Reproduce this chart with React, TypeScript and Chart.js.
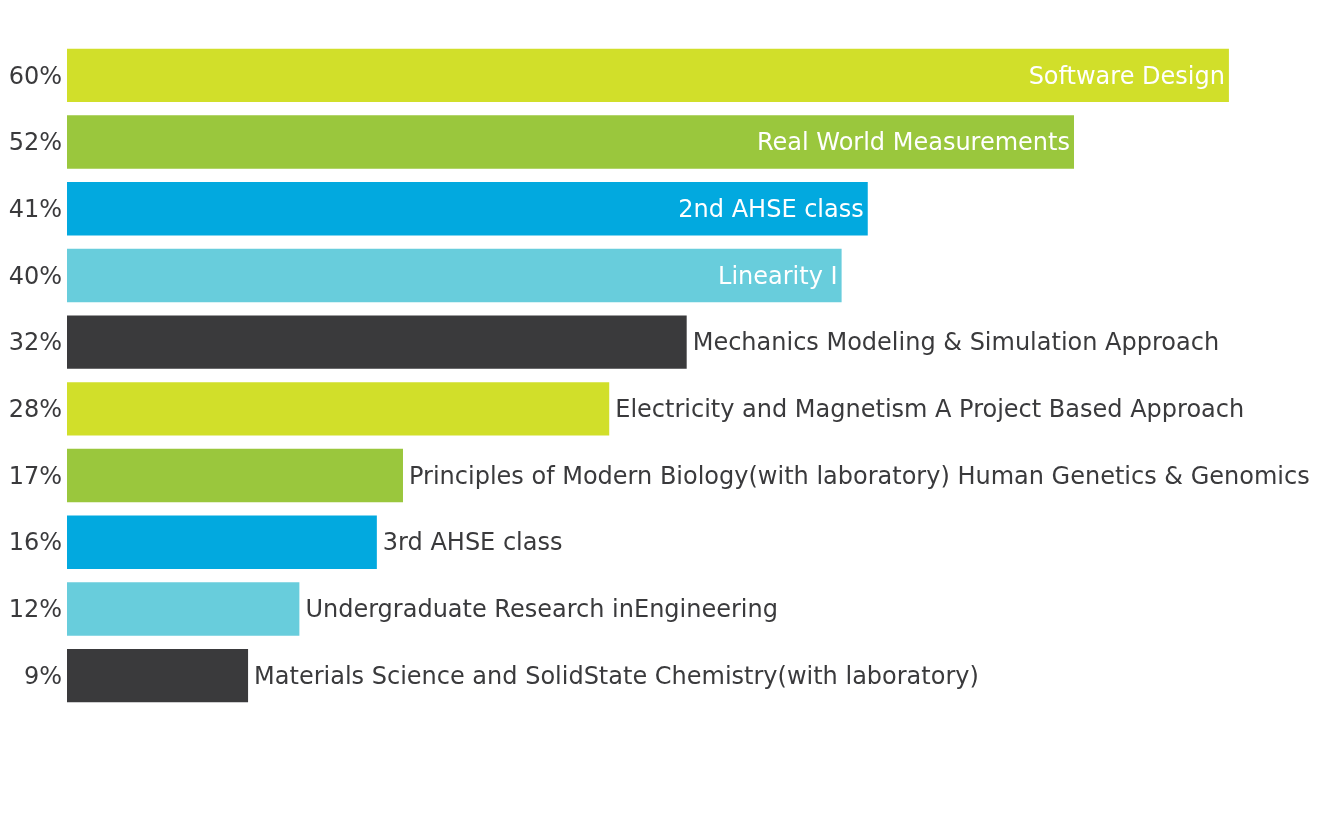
import React, { useEffect, useRef } from "react";
import { Chart, registerables } from "chart.js";

Chart.register(...registerables);

const tickLabels = ["60%", "52%", "41%", "40%", "32%", "28%", "17%", "16%", "12%", "9%"];
const values = [60, 52, 41.35, 40, 32, 28, 17.35, 16, 12, 9.35];
const courseNames = [
  "Software Design",
  "Real World Measurements",
  "2nd AHSE class",
  "Linearity I",
  "Mechanics Modeling & Simulation Approach",
  "Electricity and Magnetism A Project Based Approach",
  "Principles of Modern Biology(with laboratory) Human Genetics & Genomics",
  "3rd AHSE class",
  "Undergraduate Research inEngineering",
  "Materials Science and SolidState Chemistry(with laboratory)",
];
const palette = ["#d1df2a", "#9ac73d", "#02a9df", "#68cddc", "#3a3a3c"];

const FONT = "'DejaVu Sans', sans-serif";
const TEXT_DARK = "#3a3a3c";

const barLabelPlugin = {
  id: "barLabels",
  afterDatasetsDraw(chart: any) {
    const ctx = chart.ctx;
    const meta = chart.getDatasetMeta(0);
    ctx.save();
    ctx.font = `24px ${FONT}`;
    ctx.textBaseline = "middle";
    meta.data.forEach((bar: any, i: number) => {
      const inside = values[i] > 35;
      const y = bar.y;
      if (inside) {
        ctx.fillStyle = "#ffffff";
        ctx.textAlign = "right";
        ctx.fillText(courseNames[i], bar.x - 4, y + 2);
      } else {
        ctx.fillStyle = TEXT_DARK;
        ctx.textAlign = "left";
        ctx.fillText(courseNames[i], bar.x + 6, y + 2);
      }
    });
    ctx.restore();
  },
};

export default function App() {
  const ref = useRef<HTMLCanvasElement | null>(null);
  useEffect(() => {
    document.body.style.margin = "0";
    const canvas = ref.current!;
    const chart = new Chart(canvas, {
      type: "bar",
      data: {
        labels: tickLabels,
        datasets: [
          {
            data: values,
            backgroundColor: values.map((_, i) => palette[i % palette.length]),
            barPercentage: 0.8,
            categoryPercentage: 1,
          },
        ],
      },
      options: {
        indexAxis: "y",
        responsive: false,
        animation: false,
        layout: { padding: { top: 42, bottom: 110, left: 0, right: 0 } },
        plugins: {
          legend: { display: false },
          tooltip: { enabled: false },
        },
        scales: {
          x: {
            display: false,
            min: 0,
            max: 64.6,
          },
          y: {
            grid: { display: false, drawTicks: false },
            border: { display: false },
            ticks: {
              padding: 5,
              labelOffset: 2,
              color: TEXT_DARK,
              font: { family: FONT, size: 24 },
            },
            afterFit(scale: any) {
              scale.width = 67;
            },
          },
        },
      },
      plugins: [barLabelPlugin],
    });
    return () => chart.destroy();
  }, []);
  return (
    <div style={{ position: "fixed", left: 0, top: 0, width: 1318, height: 819, background: "#ffffff" }}>
      <canvas ref={ref} width={1318} height={819} />
    </div>
  );
}
